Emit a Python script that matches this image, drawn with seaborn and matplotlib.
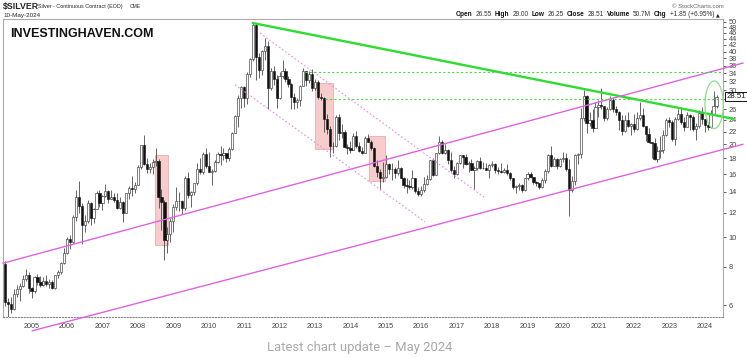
import numpy as np
import pandas as pd
import matplotlib
matplotlib.use("Agg")
import matplotlib.pyplot as plt
import seaborn as sns

# ------------------------------------------------------------
# Monthly OHLC, Apr 2004 .. May 2024
# ------------------------------------------------------------
first_month = "2004-04"

opens = [
    8.15, 6.15, 6.05, 5.85, 6.55, 6.80, 6.95, 7.30, 7.55,                          # 2004
    6.85, 6.70, 7.40, 7.15, 7.00, 7.20, 7.05, 7.15, 6.85, 7.50, 7.70, 8.25,        # 2005
    8.85, 9.85, 9.65, 11.60, 13.50, 12.60, 10.90, 11.30, 12.90, 11.55, 12.35, 13.90,  # 2006
    12.90, 13.55, 14.15, 13.30, 13.45, 13.20, 12.40, 13.00, 12.00, 13.85, 14.40, 14.35,  # 2007
    14.80, 16.85, 19.85, 17.25, 16.60, 16.85, 17.50, 17.65, 13.50, 12.95, 9.75, 10.25,  # 2008
    11.30, 12.55, 13.05, 13.10, 12.45, 15.55, 13.65, 13.95, 14.95, 16.60, 16.20, 18.65,  # 2009
    16.95, 16.25, 16.40, 17.55, 18.65, 18.45, 18.70, 18.00, 19.35, 21.80, 24.70, 28.25,  # 2010
    30.65, 28.20, 33.90, 37.85, 48.60, 38.30, 34.80, 40.05, 41.70, 30.45, 34.60, 32.65,  # 2011
    28.20, 33.25, 34.60, 32.45, 31.30, 28.40, 27.45, 27.85, 31.00, 34.60, 32.30, 33.85,  # 2012
    30.35, 31.90, 28.45, 28.30, 24.10, 22.35, 19.70, 19.70, 24.50, 21.70, 21.85, 19.55,  # 2013
    19.50, 19.20, 21.30, 19.70, 19.00, 18.70, 21.00, 20.40, 19.45, 17.05, 16.20, 15.55,  # 2014
    15.70, 17.20, 16.60, 16.60, 16.10, 16.75, 15.60, 14.70, 14.60, 14.50, 15.50, 14.10,  # 2015
    13.80, 14.20, 14.90, 15.45, 17.80, 15.95, 18.70, 20.30, 18.70, 19.20, 17.75, 16.50,  # 2016
    16.00, 17.40, 18.45, 18.25, 17.20, 17.40, 16.55, 16.70, 17.60, 16.70, 16.75, 16.50,  # 2017
    17.15, 17.30, 16.45, 16.35, 16.30, 16.45, 16.15, 15.50, 14.55, 14.65, 14.75, 14.20,  # 2018
    15.50, 16.05, 15.65, 15.10, 14.95, 14.55, 15.35, 16.40, 18.40, 17.00, 17.90, 17.00,  # 2019
    17.85, 18.05, 16.60, 14.20, 15.20, 18.50, 18.65, 24.40, 28.60, 23.40, 23.90, 22.60,  # 2020
    26.40, 26.90, 26.70, 24.40, 25.95, 27.85, 26.10, 25.50, 23.95, 22.05, 24.00, 23.00,  # 2021
    23.35, 22.45, 24.35, 24.85, 23.00, 21.65, 20.30, 20.25, 17.85, 19.00, 19.15, 21.45,  # 2022
    23.95, 23.60, 20.85, 24.10, 25.00, 23.55, 22.80, 24.90, 24.50, 22.35, 22.90, 25.30,  # 2023
    24.10, 23.10, 22.70, 25.00, 26.55,                                              # 2024
]
highs = [
    8.35, 6.35, 6.40, 6.80, 7.00, 7.10, 7.50, 7.85, 7.70,
    6.90, 7.45, 7.60, 7.45, 7.40, 7.50, 7.30, 7.25, 7.55, 7.80, 8.30, 9.20,
    10.00, 10.15, 11.75, 14.20, 15.20, 12.90, 11.80, 13.20, 13.00, 12.45, 14.10, 14.20,
    13.70, 14.85, 14.20, 14.25, 13.90, 13.85, 13.50, 13.10, 13.90, 14.60, 15.80, 15.10,
    17.10, 19.90, 21.40, 18.10, 17.40, 17.90, 19.50, 17.90, 14.30, 13.20, 10.80, 11.50,
    12.80, 14.55, 14.00, 13.20, 15.80, 16.20, 14.15, 15.00, 17.40, 18.00, 18.90, 19.40,
    18.85, 16.60, 17.80, 18.90, 19.80, 19.50, 18.80, 19.60, 22.00, 24.90, 29.00, 31.00,
    30.80, 34.30, 38.20, 49.80, 49.50, 39.50, 40.50, 44.30, 43.20, 35.40, 35.80, 33.50,
    34.30, 37.50, 35.40, 33.30, 31.50, 29.40, 28.30, 31.10, 35.40, 34.70, 34.50, 35.10,
    32.50, 32.30, 29.40, 28.40, 25.00, 23.00, 20.30, 24.90, 25.10, 23.20, 22.20, 20.00,
    20.50, 21.80, 22.10, 20.40, 19.65, 21.20, 21.60, 20.60, 19.60, 17.80, 16.60, 17.50,
    18.50, 17.40, 17.40, 16.90, 17.80, 16.90, 15.70, 15.60, 15.30, 16.50, 15.50, 14.50,
    14.60, 15.70, 15.90, 17.80, 18.00, 18.80, 21.20, 20.70, 20.10, 19.30, 18.90, 17.00,
    17.50, 18.50, 18.50, 18.60, 17.60, 17.90, 17.00, 17.80, 18.20, 17.50, 17.40, 17.20,
    17.70, 17.40, 16.90, 17.40, 16.80, 17.30, 16.20, 15.60, 14.80, 14.95, 14.90, 15.60,
    16.20, 16.20, 15.70, 15.20, 15.00, 15.50, 16.60, 18.60, 19.75, 18.20, 18.00, 18.10,
    18.90, 18.80, 17.90, 15.80, 18.60, 18.80, 26.30, 29.90, 28.90, 25.50, 26.10, 27.50,
    27.90, 30.35, 26.70, 26.50, 28.70, 28.40, 26.70, 25.70, 24.90, 24.90, 25.40, 23.40,
    25.00, 25.40, 27.50, 26.20, 23.00, 22.50, 20.40, 20.90, 19.80, 21.20, 22.20, 24.30,
    24.60, 23.90, 24.50, 26.10, 26.40, 24.50, 25.40, 25.10, 24.80, 23.50, 25.90, 26.40,
    24.20, 23.50, 25.80, 29.80, 29.00,
]
lows = [
    5.95, 5.50, 5.65, 5.80, 6.40, 6.20, 6.90, 7.20, 6.60,
    6.35, 6.60, 7.00, 6.90, 6.95, 6.95, 6.85, 6.80, 6.80, 7.35, 7.60, 8.20,
    8.80, 9.15, 9.55, 11.30, 12.00, 9.50, 10.40, 11.10, 10.90, 11.10, 12.30, 12.50,
    12.20, 13.45, 12.90, 13.30, 12.95, 12.35, 12.30, 11.20, 11.95, 13.30, 13.60, 13.90,
    14.70, 16.60, 17.10, 16.10, 16.10, 16.00, 17.00, 12.40, 10.50, 8.40, 8.85, 9.60,
    10.40, 12.20, 12.10, 11.90, 12.20, 13.40, 12.50, 13.70, 14.80, 16.00, 16.00, 16.70,
    16.20, 14.70, 16.30, 17.40, 17.10, 17.80, 17.50, 17.60, 19.10, 21.70, 22.80, 26.20,
    26.40, 27.10, 33.10, 37.30, 32.30, 32.80, 33.50, 37.60, 26.10, 29.90, 31.20, 26.20,
    28.00, 32.90, 31.90, 30.60, 26.10, 26.10, 26.20, 26.70, 30.90, 30.90, 31.50, 29.70,
    29.90, 28.10, 27.80, 22.00, 21.60, 18.20, 18.80, 19.60, 20.60, 21.00, 19.50, 18.60,
    18.80, 19.20, 19.50, 18.90, 18.60, 18.70, 20.30, 19.20, 16.90, 15.70, 14.20, 15.10,
    15.50, 16.00, 15.30, 15.50, 15.90, 15.50, 14.40, 13.90, 14.30, 14.30, 13.90, 13.60,
    13.60, 14.00, 14.70, 15.30, 15.80, 15.90, 18.60, 18.60, 18.60, 17.20, 16.20, 15.60,
    15.90, 17.30, 16.80, 17.10, 16.20, 16.50, 14.30, 16.50, 16.60, 16.60, 16.50, 15.60,
    16.90, 16.10, 16.00, 16.10, 16.10, 15.95, 15.30, 14.35, 13.90, 14.20, 13.95, 14.10,
    15.30, 15.60, 14.90, 14.60, 14.30, 14.40, 14.95, 16.10, 16.90, 16.95, 16.60, 16.90,
    17.50, 16.40, 11.70, 14.00, 14.80, 17.20, 18.10, 23.80, 21.70, 23.00, 21.90, 22.50,
    24.50, 26.10, 23.80, 24.00, 25.80, 25.40, 24.80, 22.20, 21.45, 21.90, 22.70, 21.45,
    22.00, 22.20, 23.90, 22.80, 20.50, 20.20, 18.10, 17.80, 17.55, 18.10, 18.80, 21.20,
    22.80, 20.50, 19.90, 24.00, 23.20, 22.10, 22.70, 22.30, 22.10, 20.70, 22.60, 23.20,
    22.00, 22.30, 22.60, 25.00, 26.25,
]
closes = [
    6.15, 6.05, 5.85, 6.55, 6.80, 6.95, 7.30, 7.55, 6.85,
    6.70, 7.40, 7.15, 7.00, 7.20, 7.05, 7.15, 6.85, 7.50, 7.70, 8.25, 8.85,
    9.85, 9.65, 11.60, 13.50, 12.60, 10.90, 11.30, 12.90, 11.55, 12.35, 13.90, 12.90,
    13.55, 14.15, 13.30, 13.45, 13.20, 12.40, 13.00, 12.00, 13.85, 14.40, 14.35, 14.80,
    16.85, 19.85, 17.25, 16.60, 16.85, 17.50, 17.65, 13.50, 12.95, 9.75, 10.25, 11.30,
    12.55, 13.05, 13.10, 12.45, 15.55, 13.65, 13.95, 14.95, 16.60, 16.20, 18.65, 16.95,
    16.25, 16.40, 17.55, 18.65, 18.45, 18.70, 18.00, 19.35, 21.80, 24.70, 28.25, 30.65,
    28.20, 33.90, 37.85, 48.60, 38.30, 34.80, 40.05, 41.70, 30.45, 34.60, 32.65, 28.20,
    33.25, 34.60, 32.45, 31.30, 28.40, 27.45, 27.85, 31.00, 34.60, 32.30, 33.85, 30.35,
    31.90, 28.45, 28.30, 24.10, 22.35, 19.70, 19.70, 24.50, 21.70, 21.85, 19.55, 19.50,
    19.20, 21.30, 19.70, 19.00, 18.70, 21.00, 20.40, 19.45, 17.05, 16.20, 15.55, 15.70,
    17.20, 16.60, 16.60, 16.10, 16.75, 15.60, 14.70, 14.60, 14.50, 15.50, 14.10, 13.80,
    14.20, 14.90, 15.45, 17.80, 15.95, 18.70, 20.30, 18.70, 19.20, 17.75, 16.50, 16.00,
    17.40, 18.45, 18.25, 17.20, 17.40, 16.55, 16.70, 17.60, 16.70, 16.75, 16.50, 17.15,
    17.30, 16.45, 16.35, 16.30, 16.45, 16.15, 15.50, 14.55, 14.65, 14.75, 14.20, 15.50,
    16.05, 15.65, 15.10, 14.95, 14.55, 15.35, 16.40, 18.40, 17.00, 17.90, 17.00, 17.85,
    18.05, 16.60, 14.20, 15.20, 18.50, 18.65, 24.40, 28.60, 23.40, 23.90, 22.60, 26.40,
    26.90, 26.70, 24.40, 25.95, 27.85, 26.10, 25.50, 23.95, 22.05, 24.00, 23.00, 23.35,
    22.45, 24.35, 24.85, 23.00, 21.65, 20.30, 20.25, 17.85, 19.00, 19.15, 21.45, 23.95,
    23.60, 20.85, 24.10, 25.00, 23.55, 22.80, 24.90, 24.50, 22.35, 22.90, 25.30, 24.10,
    23.10, 22.70, 25.00, 26.66, 28.51,
]

price_ticks = [6, 8, 10, 12, 14, 16, 18, 20, 22, 24, 26, 28, 30, 32, 34, 36,
               38, 40, 42, 44, 46, 48, 50]
last_close = 28.51

# drawn annotations (x = month index from Apr 2004, y = price)
green_trend_x = [83.9, 246.6]
green_trend_y = [49.5, 24.2]
channel_top_x = [-0.7, 250.0]
channel_top_y = [8.22, 36.7]
channel_bot_x = [9.2, 250.0]
channel_bot_y = [4.96, 20.0]
fall_top_x = [86.4, 162.6]
fall_top_y = [45.9, 13.4]
fall_bot_x = [77.9, 142.3]
fall_bot_y = [31.2, 11.2]
level_values = [34.35, 27.95]
level_start = [101.6, 108.4]
box_x0 = [50.8, 105.0, 123.3]
box_x1 = [55.1, 111.2, 128.7]
box_lo = [9.42, 19.26, 15.24]
box_hi = [18.4, 31.55, 21.33]
ring_x = [237.1, 243.3]
ring_y = [22.5, 32.1]

# ------------------------------------------------------------
df = pd.DataFrame({"open": opens, "high": highs, "low": lows, "close": closes})
df["month"] = pd.period_range(first_month, periods=len(df), freq="M")
df["i"] = np.arange(len(df))
up = df["close"] >= df["open"]

W, H = 747, 358
sns.set_theme(style="white")
plt.rcParams["font.family"] = ["Liberation Sans", "DejaVu Sans"]

fig = plt.figure(figsize=(W / 100, H / 100), dpi=100, facecolor="white")
ax = fig.add_axes([3 / W, (H - 317) / H, (723 - 3) / W, (317 - 19) / H])
ax.set_yscale("log")

# pink highlight boxes
for x0, x1, lo, hi in zip(box_x0, box_x1, box_lo, box_hi):
    ax.fill_between([x0, x1], lo, hi, facecolor="#f4bcbc", edgecolor="#e59a9a",
                    alpha=0.75, lw=0.6, zorder=1)

# candles
ax.vlines(df["i"], df["low"], df["high"], color="#3a3a3a", lw=0.55, zorder=2)
ax.bar(df["i"][up], (df["close"] - df["open"])[up], bottom=df["open"][up],
       width=0.75, color="white", edgecolor="#3a3a3a", lw=0.45, zorder=3)
ax.bar(df["i"][~up], (df["open"] - df["close"])[~up], bottom=df["close"][~up],
       width=0.75, color="#111111", edgecolor="#111111", lw=0.4, zorder=3)

# trend lines
sns.lineplot(x=green_trend_x, y=green_trend_y, ax=ax, color="#2fdc2f", lw=1.7,
             clip_on=False, zorder=4)
for xs, ys in [(channel_top_x, channel_top_y), (channel_bot_x, channel_bot_y)]:
    sns.lineplot(x=xs, y=ys, ax=ax, color="#dc64dc", lw=1.0, clip_on=False, zorder=4)
for xs, ys in [(fall_top_x, fall_top_y), (fall_bot_x, fall_bot_y)]:
    sns.lineplot(x=xs, y=ys, ax=ax, color="#e48ee4", lw=0.8, ls=(0, (1.5, 2)), zorder=4)

x_right = 243.2
for lvl, x0 in zip(level_values, level_start):
    ax.hlines(lvl, x0, x_right, colors="#4fd24f", lw=0.8, linestyles=(0, (2, 2)), zorder=4)

# ellipse around the breakout
t = np.linspace(0, 2 * np.pi, 120)
cx, rx = np.mean(ring_x), (ring_x[1] - ring_x[0]) / 2
cy, ry = np.mean(np.log(ring_y)), (np.log(ring_y[1]) - np.log(ring_y[0])) / 2
ax.plot(cx + rx * np.cos(t), np.exp(cy + ry * np.sin(t)), color="#8ddc8d", lw=0.9,
        clip_on=False, zorder=5)

# axes
ax.set_xlim(-0.68, x_right)
ax.set_ylim(5.50, 51.0)
ax.yaxis.tick_right()
ax.set_yticks(price_ticks)
# the 28 label sits under the last-price box
ax.set_yticklabels(["" if p == 28 else str(p) for p in price_ticks])
ax.yaxis.set_minor_locator(matplotlib.ticker.NullLocator())
ax.tick_params(axis="y", length=2.5, width=0.6, labelsize=5.3, pad=1.5,
               colors="#444444", right=True, left=False)

jan = df[df["month"].dt.month == 1]
ax.set_xticks(jan["i"])
ax.set_xticklabels([str(y) for y in jan["month"].dt.year])
ax.tick_params(axis="x", length=2, width=0.6, labelsize=5.2, pad=2, colors="#444444")
ax.set_xlabel("")
ax.set_ylabel("")
for s in ["top", "left", "right"]:
    ax.spines[s].set_color("#aaaaaa")
    ax.spines[s].set_linewidth(0.8)
ax.spines["bottom"].set_color("#888888")
ax.spines["bottom"].set_linestyle(":")
ax.spines["bottom"].set_linewidth(0.8)

ax.annotate(f"{last_close:.2f}", xy=(1.0, last_close), xycoords=("axes fraction", "data"),
            xytext=(2.5, 0), textcoords="offset points", va="center", ha="left",
            fontsize=5.6, color="#111111", annotation_clip=False, zorder=10,
            bbox=dict(boxstyle="square,pad=0.15", fc="white", ec="#111111", lw=0.7))

# texts
def fx(px):
    return px / W

def fy(py):
    return 1 - py / H

fig.text(fx(10), fy(34), "INVESTINGHAVEN.COM", fontsize=9, fontweight="bold",
         color="#111111", va="center", ha="left")
fig.text(fx(3), fy(6.5), "$SILVER", fontsize=6.3, fontweight="bold", va="center")
fig.text(fx(38), fy(6.5), "Silver - Continuous Contract (EOD)", fontsize=3.9, va="center")
fig.text(fx(130), fy(6.5), "CME", fontsize=3.6, va="center")
fig.text(fx(3), fy(15), "10-May-2024", fontsize=4.5, va="center")
fig.text(fx(724), fy(6), "\u00a9 StockCharts.com", fontsize=4.3, color="#666666",
         va="center", ha="right")

renderer = fig.canvas.get_renderer()
parts = [("Open", True), ("26.55", False), ("High", True), ("29.00", False),
         ("Low", True), ("26.25", False), ("Close", True), ("28.51", False),
         ("Volume", True), ("50.7M", False), ("Chg", True), ("+1.85 (+6.95%)", False)]
x = 456
for s, bold in parts:
    txt = fig.text(fx(x), fy(15), s, fontsize=4.7, fontweight="bold" if bold else "normal",
                   va="center", ha="left", color="#111111" if bold else "#333333")
    x += txt.get_window_extent(renderer).width + 3
fig.text(fx(x - 1), fy(15), "\u25b2", fontsize=3.5, va="center", ha="left",
         family=["DejaVu Sans"])

fig.text(fx(360), fy(347), "Latest chart update \u2013 May 2024", fontsize=9.4,
         color="#a9a9a9", ha="center", va="center",
         family=["Liberation Sans Narrow", "Roboto", "DejaVu Sans"])

fig.savefig("out.png", dpi=100, facecolor="white")
